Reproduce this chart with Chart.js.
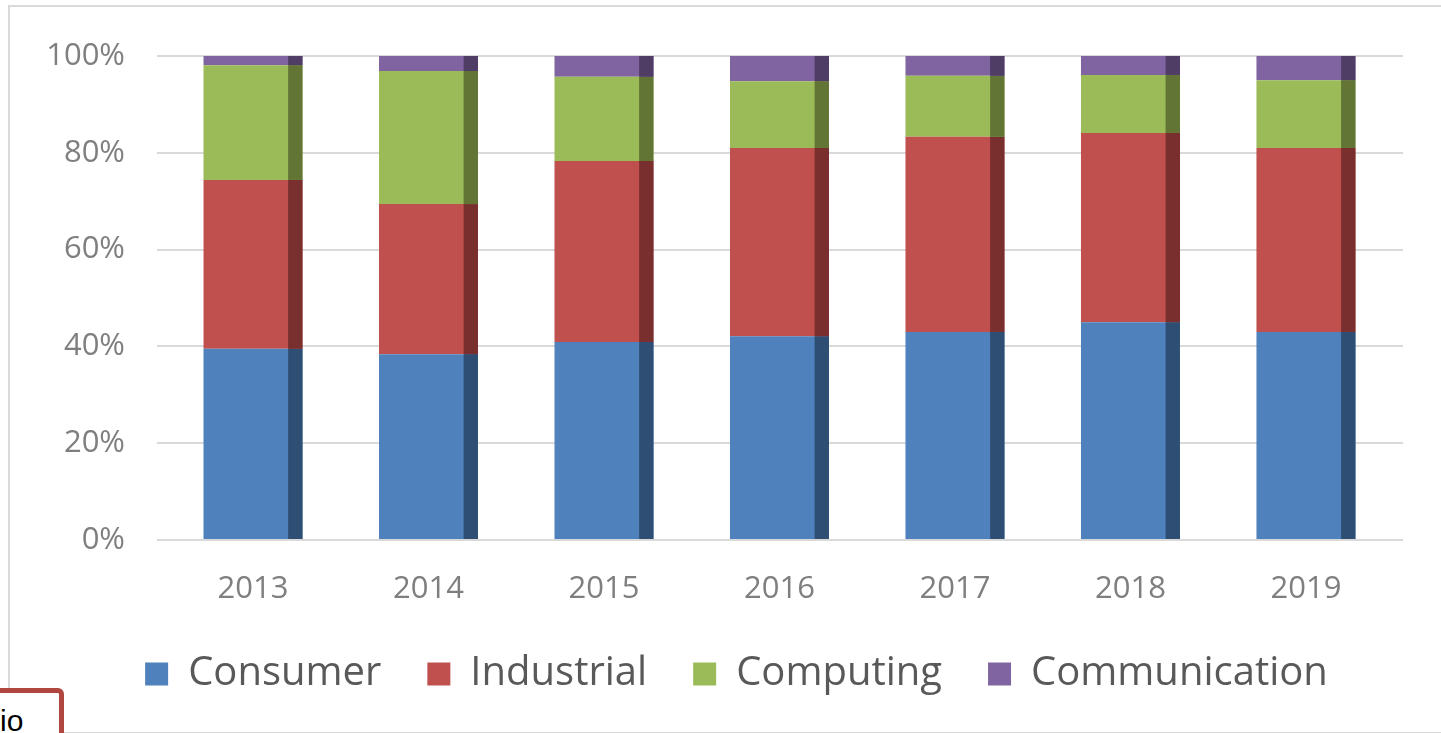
<!DOCTYPE html>
<html>
<head>
<meta charset="utf-8">
<script src="https://cdn.jsdelivr.net/npm/chart.js@4/dist/chart.umd.min.js"></script>
<style>
  html, body { margin:0; padding:0; width:1441px; height:733px; overflow:hidden; background:#fff; }
  #frame { position:absolute; left:8px; top:5px; width:1460px; height:725px; border:2px solid #d9d9d9; box-sizing:content-box; }
  #c { position:absolute; left:0; top:0; }
  #iobox { position:absolute; left:-20px; top:688px; width:84px; height:70px; box-sizing:border-box; border:5px solid #b0463f; border-radius:6px; background:#fff; }
  #iotext { position:absolute; left:0px; top:704px; font:30px 'Liberation Sans', Arial, sans-serif; color:#000; }
</style>
</head>
<body>
<div id="frame"></div>
<canvas id="c" width="1441" height="733"></canvas>
<div id="iobox"></div>
<div id="iotext">io</div>
<script>
const years = ['2013','2014','2015','2016','2017','2018','2019'];
const seriesNames = ['Consumer','Industrial','Computing','Communication'];
const consumer      = [39.5, 38.4, 40.9, 42.1, 43.0, 45.0, 43.0];
const industrial    = [34.9, 31.0, 37.4, 38.9, 40.3, 39.1, 38.0];
const computing     = [23.7, 27.5, 17.4, 13.8, 12.6, 12.0, 14.0];
const communication = [ 1.9,  3.1,  4.3,  5.2,  4.1,  3.9,  5.0];
const yTicks = [0, 20, 40, 60, 80, 100];

const colors     = ['#4f81bd', '#c0504d', '#9bbb59', '#8064a2'];
const darkColors = ['#2f4e74', '#7a2f2f', '#627535', '#4f3d66'];

const seriesValues = [consumer, industrial, computing, communication];

const sideShade = {
  id: 'sideShade',
  afterDatasetsDraw(chart) {
    const ctx = chart.ctx;
    chart.data.datasets.forEach((ds, di) => {
      const meta = chart.getDatasetMeta(di);
      meta.data.forEach(el => {
        const p = el.getProps(['x','y','base','width'], true);
        const w = p.width * 0.145;
        const right = p.x + p.width / 2;
        const top = Math.min(p.y, p.base);
        const h = Math.abs(p.base - p.y);
        ctx.save();
        ctx.fillStyle = darkColors[di];
        ctx.fillRect(right - w, top, w, h);
        ctx.restore();
      });
    });
  }
};

const datasets = seriesNames.map((name, i) => ({
  label: name,
  data: seriesValues[i].map((v, j) => ({ x: j, y: v })),
  backgroundColor: colors[i],
  borderWidth: 0,
  categoryPercentage: 1,
  barPercentage: 0.564
}));

const fontFamily = "'Open Sans', 'Noto Sans', sans-serif";

new Chart(document.getElementById('c'), {
  type: 'bar',
  data: { datasets },
  plugins: [sideShade],
  options: {
    responsive: false,
    animation: false,
    devicePixelRatio: 1,
    layout: { padding: { top: 56, left: 40, right: 8, bottom: 29 } },
    plugins: {
      tooltip: { enabled: false },
      legend: {
        position: 'bottom',
        labels: {
          boxWidth: 23,
          boxHeight: 23,
          padding: 46,
          color: '#595959',
          font: { family: fontFamily, size: 40 }
        }
      }
    },
    scales: {
      x: {
        type: 'linear',
        offset: false,
        stacked: true,
        min: -0.547,
        max: 6.553,
        grid: { display: false, drawTicks: false },
        border: { display: false },
        afterFit: s => { s.height = 68; },
        ticks: {
          stepSize: 1,
          includeBounds: false,
          autoSkip: false,
          maxRotation: 0,
          padding: 31,
          color: '#7f7f7f',
          font: { family: fontFamily, size: 31 },
          callback: v => (Number.isInteger(v) && years[v] !== undefined) ? years[v] : ''
        }
      },
      y: {
        stacked: true,
        min: 0,
        max: 100,
        afterFit: s => { s.width = 117; },
        afterBuildTicks: s => { s.ticks = yTicks.map(v => ({ value: v })); },
        grid: { color: '#d9d9d9', lineWidth: 2, drawTicks: false },
        border: { display: false },
        ticks: {
          padding: 32,
          color: '#7f7f7f',
          font: { family: fontFamily, size: 31 },
          callback: v => v + '%'
        }
      },
      yRight: {
        position: 'right',
        display: true,
        min: 0,
        max: 1,
        afterFit: s => { s.width = 30; },
        grid: { display: false, drawTicks: false },
        border: { display: false },
        ticks: { display: false }
      }
    }
  }
});
</script>
</body>
</html>
